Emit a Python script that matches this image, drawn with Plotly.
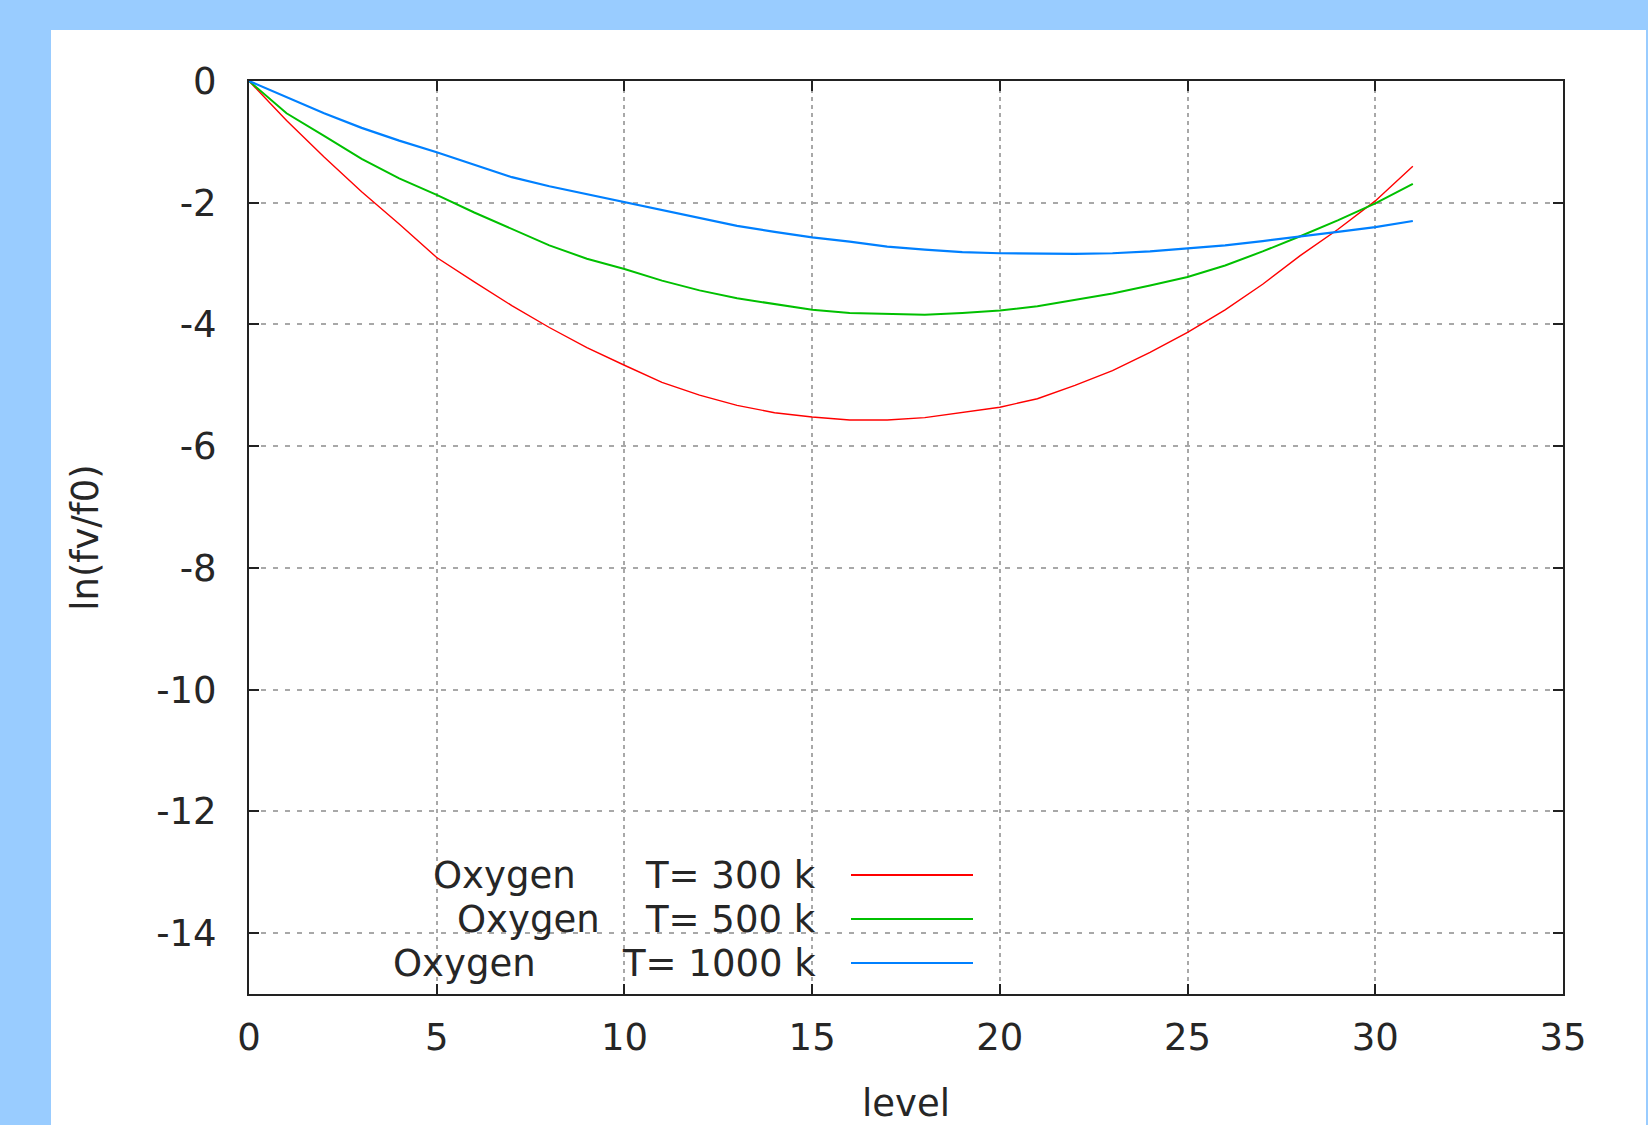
import plotly.graph_objects as go

# ---- data ----
levels = list(range(0, 32))
oxy_300 = [0, -0.65, -1.25, -1.82, -2.35, -2.9, -3.3, -3.69, -4.05, -4.38,
           -4.67, -4.95, -5.16, -5.33, -5.45, -5.52, -5.57, -5.57, -5.53, -5.45,
           -5.36, -5.22, -5.0, -4.76, -4.46, -4.13, -3.76, -3.34, -2.87, -2.44,
           -1.97, -1.4]
oxy_500 = [0, -0.53, -0.9, -1.28, -1.6, -1.87, -2.16, -2.43, -2.7, -2.92,
           -3.09, -3.28, -3.44, -3.57, -3.67, -3.76, -3.81, -3.83, -3.84, -3.81,
           -3.77, -3.70, -3.60, -3.49, -3.36, -3.22, -3.03, -2.80, -2.55, -2.29,
           -2.01, -1.69]
oxy_1000 = [0, -0.26, -0.53, -0.77, -0.98, -1.17, -1.38, -1.58, -1.73, -1.86,
            -1.99, -2.13, -2.26, -2.38, -2.48, -2.57, -2.64, -2.72, -2.77, -2.81,
            -2.83, -2.84, -2.84, -2.83, -2.80, -2.75, -2.70, -2.63, -2.56, -2.48,
            -2.40, -2.30]

series_names = ["Oxygen", "Oxygen", "Oxygen"]
series_temps = ["T= 300 k", "T= 500 k", "T= 1000 k"]
series_colors = ["#ff0000", "#00c000", "#0080ff"]
series_widths = [1.4, 2.0, 2.2]

x_tickvals = [0, 5, 10, 15, 20, 25, 30, 35]
x_ticktext = ["0", "5", "10", "15", "20", "25", "30", "35"]
y_tickvals = [0, -2, -4, -6, -8, -10, -12, -14]
y_ticktext = ["0", "-2", "-4", "-6", "-8", "-10", "-12", "-14"]

FONT = "DejaVu Sans"
TXT = "#262626"
FS = 37

W, H = 1648, 1125
L, R, T, B = 249, 1563, 81, 994  # plot area pixels


def px_x(p):
    return (p - L) / (R - L)


def px_y(p):
    return (B - p) / (B - T)


fig = go.Figure()
for ys, name, temp, col, w in zip([oxy_300, oxy_500, oxy_1000], series_names,
                                  series_temps, series_colors, series_widths):
    fig.add_trace(go.Scatter(x=levels, y=ys, mode="lines", name=f"{name} {temp}",
                             line=dict(color=col, width=w), showlegend=False))

shapes = []
# white page panel over light-blue border
shapes.append(dict(type="rect", xref="paper", yref="paper", layer="below",
                   x0=px_x(51), x1=px_x(1646), y0=px_y(1140), y1=px_y(30),
                   fillcolor="white", line=dict(width=0)))
# legend box background (hides grid)
shapes.append(dict(type="rect", xref="paper", yref="paper", layer="between",
                   x0=px_x(280), x1=px_x(995), y0=px_y(984), y1=px_y(857),
                   fillcolor="white", line=dict(width=0)))

annotations = []
row_y = [875, 919, 963]
name_x = [431, 455, 391]
for i in range(3):
    yy = px_y(row_y[i])
    shapes.append(dict(type="line", xref="paper", yref="paper",
                       x0=px_x(851), x1=px_x(973), y0=yy, y1=yy,
                       line=dict(color=series_colors[i], width=2.2)))
    annotations.append(dict(xref="paper", yref="paper", x=px_x(name_x[i]), y=yy,
                            xanchor="left", yanchor="middle", showarrow=False,
                            text=series_names[i], font=dict(family=FONT, size=FS, color=TXT)))
    annotations.append(dict(xref="paper", yref="paper", x=px_x(818), y=yy,
                            xanchor="right", yanchor="middle", showarrow=False,
                            text=series_temps[i], font=dict(family=FONT, size=FS, color=TXT)))

fig.update_layout(
    width=W, height=H,
    margin=dict(l=L, r=W - R, t=T, b=H - B, pad=0, autoexpand=False),
    paper_bgcolor="#99ccff",
    plot_bgcolor="white",
    font=dict(family=FONT, size=FS, color=TXT),
    shapes=shapes,
    annotations=annotations,
    showlegend=False,
)

fig.update_xaxes(
    range=[0, 35], tickvals=x_tickvals, ticktext=x_ticktext,
    ticks="inside", ticklen=10, tickwidth=2, tickcolor="#222",
    showline=True, linewidth=2, linecolor="#222", mirror="ticks",
    showgrid=True, gridcolor="#a8a8a8", gridwidth=1.5, griddash="4px,4px",
    zeroline=False, ticklabelstandoff=10, automargin=False,
    tickfont=dict(family=FONT, size=FS, color=TXT),
    title=dict(text="level", standoff=32, font=dict(family=FONT, size=FS, color=TXT)),
)
fig.update_yaxes(
    range=[-15, 0], tickvals=y_tickvals, ticktext=y_ticktext,
    ticks="inside", ticklen=10, tickwidth=2, tickcolor="#222",
    showline=True, linewidth=2, linecolor="#222", mirror="ticks",
    showgrid=True, gridcolor="#a8a8a8", gridwidth=1.5, griddash="5px,7px",
    zeroline=False, ticklabelstandoff=23, automargin=False,
    tickfont=dict(family=FONT, size=FS, color=TXT),
    title=dict(text="ln(fv/f0)", standoff=46, font=dict(family=FONT, size=FS, color=TXT)),
)

fig.write_html(
    "out.html",
    config={"displayModeBar": False},
    post_script="document.body.style.margin='0';document.body.style.overflow='hidden';",
)
